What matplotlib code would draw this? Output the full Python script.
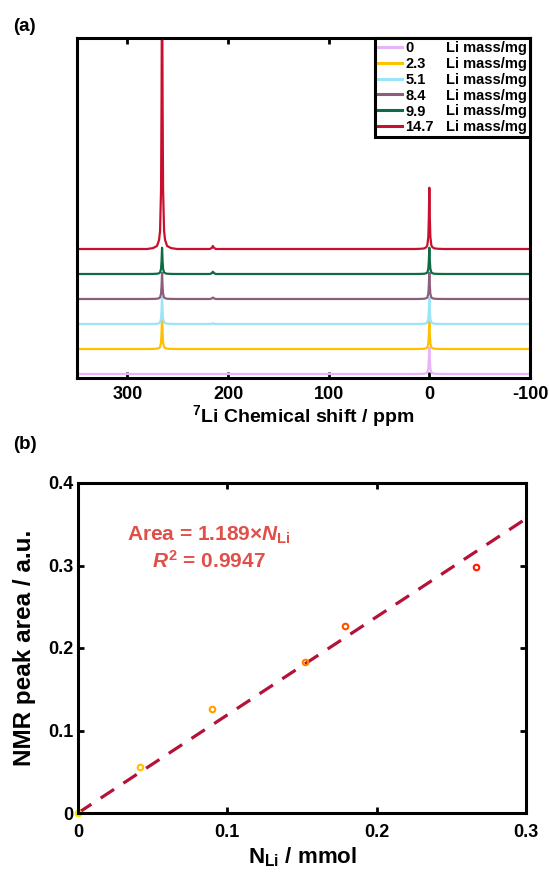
import matplotlib
matplotlib.use("Agg")
import matplotlib.pyplot as plt
from matplotlib.lines import Line2D
import numpy as np

plt.rcParams['font.family'] = ['Liberation Sans', 'DejaVu Sans']
plt.rcParams['font.weight'] = 'bold'
plt.rcParams['axes.unicode_minus'] = False
plt.rcParams['mathtext.fontset'] = 'custom'
plt.rcParams['mathtext.rm'] = 'Liberation Sans:bold'
plt.rcParams['mathtext.it'] = 'Liberation Sans:bold:italic'
plt.rcParams['mathtext.bf'] = 'Liberation Sans:bold'

# ---- panel (a): 7Li NMR spectra ----
masses = ["0", "2.3", "5.1", "8.4", "9.9", "14.7"]
spec_colors = ["#E8B4F8", "#FFC000", "#9BE3F7", "#8B5E7B", "#0E6B45", "#C8102E"]
peak1_pos = 265.5
peak2_pos = 0.0
peak1_h = [0.0, 1.3, 1.1, 1.05, 1.05, 12.0]    # height of ~265 ppm peak
peak2_h = [1.05, 1.1, 1.05, 1.05, 1.05, 2.45]  # height of 0 ppm peak
side_h = [0.0, 0.0, 0.03, 0.06, 0.09, 0.12]    # small peak near 215 ppm
side_pos = 215.0
shape_off = [-15, -9, -5, -3, -2, -1, -0.5, 0, 0.5, 1, 2, 3, 5, 9, 15]
shape_val = [0, 0.003, 0.01, 0.03, 0.06, 0.2, 0.5, 1.0, 0.5, 0.2, 0.06, 0.03, 0.01, 0.003, 0]
side_off = [-3, -1, 0, 1, 3]
side_val = [0, 0.4, 1, 0.4, 0]

# ---- panel (b): peak area vs Li amount ----
n_li = [0.0, 0.0413, 0.0894, 0.1523, 0.1787, 0.2663]
area = [0.0, 0.0558, 0.1257, 0.183, 0.2267, 0.2986]
pt_colors = ["#FFE600", "#FFC000", "#FFA000", "#FF8000", "#FF5000", "#FF1A00"]
slope = 1.189
fit_x = [0.0, 0.3]

W, H = 549, 874
fig = plt.figure(figsize=(W / 100, H / 100), dpi=100)

ax1 = fig.add_axes([77 / W, 1 - 378 / H, 453 / W, 340 / H])
so = np.array(shape_off)
sv = np.array(shape_val)
for i in range(len(masses)):
    x = np.concatenate([[350], peak1_pos - so, side_pos - np.array(side_off),
                        peak2_pos - so, [-100]])
    y = np.concatenate([[0], peak1_h[i] * sv, side_h[i] * np.array(side_val),
                        peak2_h[i] * sv, [0]]) + i
    ax1.plot(x, y, color=spec_colors[i], lw=1.6, label=masses[i])
ax1.set_xlim(350, -100)
ax1.set_ylim(-0.16, 13.44)
ax1.set_yticks([])
ax1.set_xticks([300, 200, 100, 0, -100])
ax1.tick_params(axis='x', direction='in', top=True, length=4, width=2,
                labelsize=13, pad=6)
for s in ax1.spines.values():
    s.set_linewidth(2.2)
ax1.set_xlabel("$^{7}$Li Chemical shift / ppm", fontsize=14, fontweight='bold',
               labelpad=0)

handles = [Line2D([], [], color=c, lw=2.2) for c in spec_colors]
blank = [Line2D([], [], color='none') for _ in spec_colors]
labels = masses + ["Li mass/mg"] * len(masses)
leg = ax1.legend(handles + blank, labels, ncol=2, loc='upper right',
                 bbox_to_anchor=(1.0, 1.0), fontsize=10.5, frameon=True,
                 fancybox=False, edgecolor='black', framealpha=1,
                 handlelength=1.6, handletextpad=0.25, columnspacing=-1.0,
                 labelspacing=0.13, borderpad=0.2, borderaxespad=0.0)
leg.get_frame().set_linewidth(2.2)

fig.text(13 / W, 1 - 31 / H, "(a)", fontsize=13.5, fontweight='bold')

# ---- panel (b) ----
ax2 = fig.add_axes([78 / W, 1 - 813 / H, 448 / W, 330 / H])
ax2.plot(fit_x, [slope * v for v in fit_x], color="#B5123A", lw=2.3,
         ls=(0, (5, 3.5)))
for xv, yv, c in zip(n_li, area, pt_colors):
    ax2.plot(xv, yv, 'o', mfc='none', mec=c, ms=4, mew=1.5, clip_on=False)
ax2.set_xlim(0, 0.3)
ax2.set_ylim(0, 0.4)
ax2.set_xticks([0, 0.1, 0.2, 0.3])
ax2.set_xticklabels(["0", "0.1", "0.2", "0.3"])
ax2.set_yticks([0, 0.1, 0.2, 0.3, 0.4])
ax2.set_yticklabels(["0", "0.1", "0.2", "0.3", "0.4"])
ax2.tick_params(direction='in', top=True, right=True, length=4, width=2,
                labelsize=13)
ax2.tick_params(axis='x', pad=8)
ax2.tick_params(axis='y', pad=3)
for s in ax2.spines.values():
    s.set_linewidth(2.2)
ax2.set_xlabel("N$_{\\mathregular{Li}}$ / mmol", fontsize=16, fontweight='bold',
               labelpad=3)
ax2.set_ylabel("NMR peak area / a.u.", fontsize=17.5, fontweight='bold', labelpad=9)
ax2.text(0.0876, 0.336, "Area = 1.189×$\\mathit{N}_{\\mathrm{Li}}$", color="#E0504A",
         fontsize=15, fontweight='bold', ha='center', va='center')
ax2.text(0.0876, 0.306, "$\\mathit{R}^{2}$ = 0.9947", color="#E0504A",
         fontsize=15, fontweight='bold', ha='center', va='center')

fig.text(13 / W, 1 - 449 / H, "(b)", fontsize=13.5, fontweight='bold')

fig.savefig("out.png", dpi=100)
